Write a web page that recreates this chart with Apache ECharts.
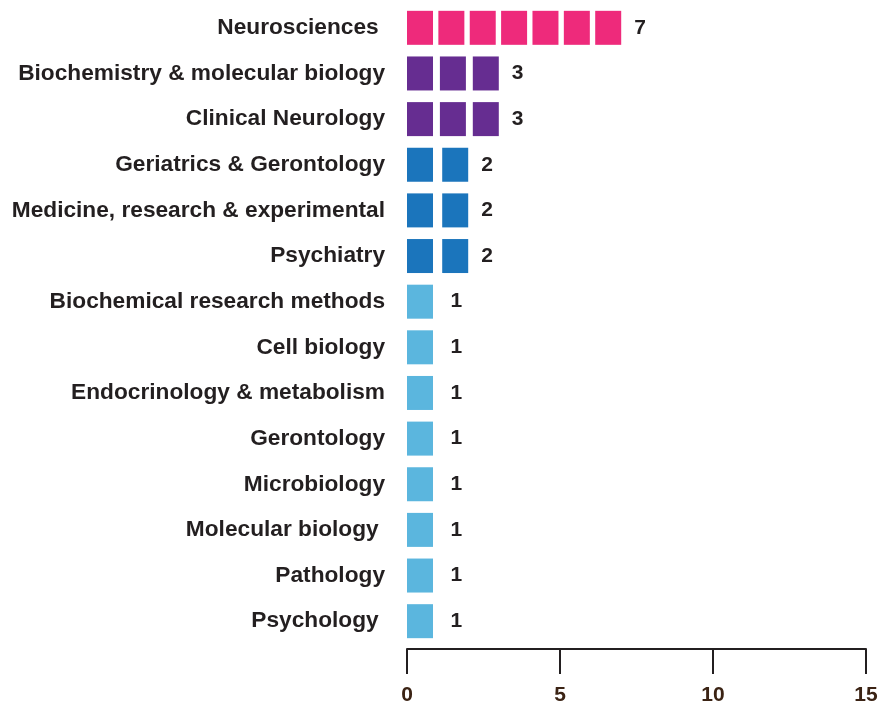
<!DOCTYPE html>
<html>
<head>
<meta charset="utf-8">
<script src="https://cdn.jsdelivr.net/npm/echarts@6/dist/echarts.min.js"></script>
<style>
  html, body { margin: 0; padding: 0; background: #fff; }
  #chart { width: 881px; height: 709px; }
</style>
</head>
<body>
<div id="chart"></div>
<script>
// categories top to bottom, trailing spaces kept as in the source figure
const categories = [
    'Neurosciences ',
    'Biochemistry & molecular biology',
    'Clinical Neurology',
    'Geriatrics & Gerontology',
    'Medicine, research & experimental',
    'Psychiatry',
    'Biochemical research methods',
    'Cell biology',
    'Endocrinology & metabolism',
    'Gerontology',
    'Microbiology',
    'Molecular biology ',
    'Pathology',
    'Psychology '
];
const counts = [7, 3, 3, 2, 2, 2, 1, 1, 1, 1, 1, 1, 1, 1];
const xTicks = [0, 5, 10, 15];

const font = 'Liberation Sans, Arial, Helvetica, sans-serif';
const colorFor = (v) => {
    if (v >= 7) return '#ee2a7b';
    if (v >= 3) return '#662d91';
    if (v >= 2) return '#1b75bc';
    return '#5bb6de';
};

const chart = echarts.init(document.getElementById('chart'));
chart.setOption({
    animation: false,
    grid: { left: 407, right: 15, top: 5, bottom: 65 },
    xAxis: {
        type: 'value',
        min: xTicks[0],
        max: xTicks[xTicks.length - 1],
        interval: xTicks[1] - xTicks[0],
        offset: 5,
        splitLine: { show: false },
        axisLine: { show: true, lineStyle: { color: '#231f20', width: 2 } },
        axisTick: { show: true, length: 25, lineStyle: { color: '#231f20', width: 2 } },
        axisLabel: {
            margin: 36,
            fontSize: 21,
            fontWeight: 'bold',
            fontFamily: font,
            color: '#3b2314'
        }
    },
    yAxis: {
        type: 'category',
        inverse: true,
        data: categories,
        axisLine: { show: false },
        axisTick: { show: false },
        axisLabel: {
            margin: 22,
            fontSize: 22.7,
            fontWeight: 'bold',
            fontFamily: font,
            color: '#231f20'
        }
    },
    series: [{
        type: 'pictorialBar',
        symbol: 'rect',
        symbolSize: [26, 34],
        symbolPosition: 'start',
        data: counts.map((v) => ({
            value: v,
            symbolRepeat: v,
            symbolBoundingData: v,
            itemStyle: { color: colorFor(v) }
        })),
        label: {
            show: true,
            position: 'right',
            distance: 13,
            fontSize: 21,
            fontWeight: 'bold',
            fontFamily: font,
            color: '#231f20'
        }
    }]
});
</script>
</body>
</html>
